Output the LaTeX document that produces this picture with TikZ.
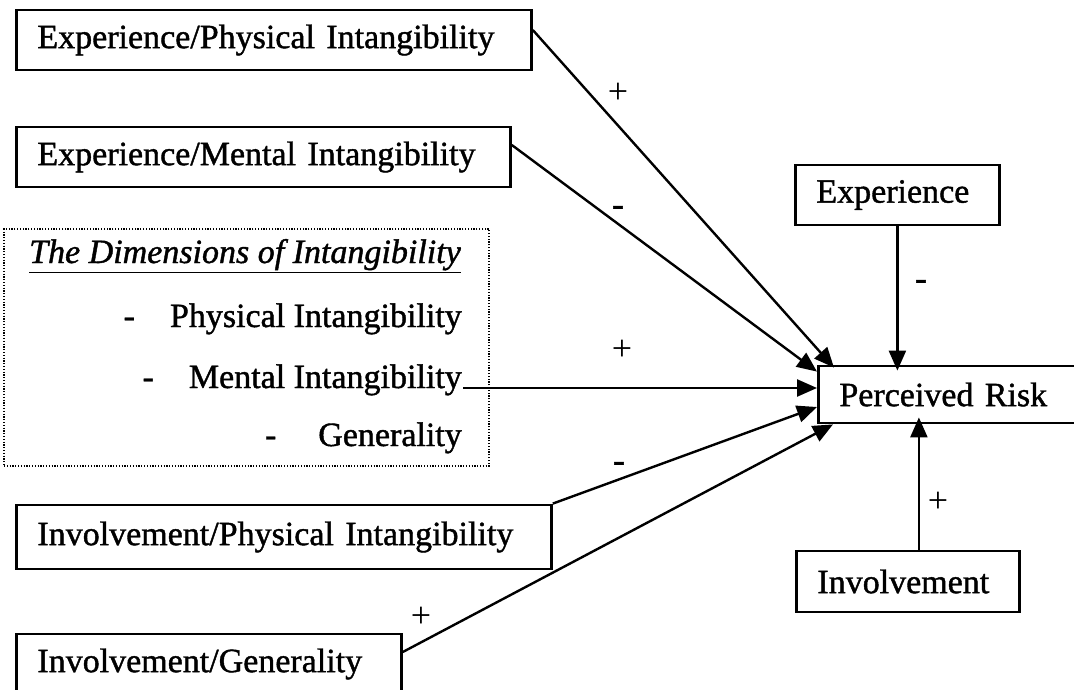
\documentclass[tikz,border=0pt]{standalone}
\usepackage{fontspec}
\setmainfont{Liberation Serif}[BoldFont=Liberation Serif, BoldFeatures={FakeBold=1.2},
  BoldItalicFont=Liberation Serif Italic, BoldItalicFeatures={FakeBold=1.2}]
\usetikzlibrary{arrows.meta}

\tikzset{
  box/.style={draw, line width=2.8pt, anchor=west, align=left, inner xsep=21pt,
    minimum height=60pt, font=\fontsize{34}{40}\selectfont\bfseries},
  dimbox/.style={draw, line width=1.2pt, dash pattern=on 1.2pt off 1.6pt,
    minimum width=485pt, minimum height=237pt},
  rowtext/.style={anchor=base east, inner sep=1pt, font=\fontsize{34}{40}\selectfont\bfseries},
  signlab/.style={inner sep=0pt, font=\fontsize{36}{38}\selectfont},
  arr/.style={line width=2.4pt, -{Triangle[length=20pt,width=17pt]}},
}

\begin{document}
\begin{tikzpicture}[x=1pt, y=-1pt]
  \path[use as bounding box, clip] (0,0) rectangle (1074,690);

  % boxes on the left
  \node[box, text width=473pt] (eP) at (15,40) {Experience/Physical Intangibility};
  \node[box, text width=452pt] (eM) at (15,157) {Experience/Mental Intangibility};
  \node[box, text width=493pt, minimum height=64pt] (iP) at (15,537) {Involvement/Physical Intangibility};
  \node[box, text width=343pt] (iG) at (15,664) {Involvement/Generality};

  % the dimensions
  \node[dimbox] (dim) at (246.5,347.5) {};
  \node[anchor=base west, inner sep=1pt, font=\fontsize{34}{40}\selectfont\bfseries] (title) at (28,263)
    {\underline{\textit{The Dimensions of Intangibility}}};
  \node[rowtext] (phys) at (463,327) {-\hspace{35pt}Physical Intangibility};
  \node[rowtext] (ment) at (463,388) {-\hspace{35pt}Mental Intangibility};
  \node[rowtext] (gen) at (463,446) {-\hspace{42pt}Generality};

  % right side
  \node[box, text width=162pt] (exp) at (794,195) {Experience};
  \node[box, text width=181pt, minimum height=61pt] (inv) at (795,581.5) {Involvement};
  \node[box, text width=280pt, minimum height=57pt] (risk) at (817,394.5) {Perceived Risk};

  % arrows
  \draw[arr] ([yshift=10pt]eP.east) -- ([xshift=17pt,yshift=-3pt]risk.north west);
  \draw[arr] ([yshift=12pt]eM.east) -- ([yshift=-7pt]risk.north west);
  \draw[arr] (ment.base east) -- (ment.base east -| risk.west);
  \draw[arr] (iP.north east) -- ([yshift=-12.5pt]risk.west);
  \draw[arr] ([yshift=12pt]iG.east) -- ([xshift=16pt]risk.south west);
  \draw[arr, shorten >=-6pt] (exp.south) -- (exp.south |- risk.north);
  \draw[arr, shorten >=-7pt] ([xshift=11pt]inv.north) -- ([xshift=11pt]inv.north |- risk.south);

  % signs
  \node[signlab] (s1) at (618,93) {+};
  \node[signlab] (s2) at (618,211) {\textbf{-}};
  \node[signlab] (s3) at (622,350) {+};
  \node[signlab] (s4) at (619,467) {\textbf{-}};
  \node[signlab] (s5) at (421,617) {+};
  \node[signlab] (s6) at (921,285) {\textbf{-}};
  \node[signlab] (s7) at (938,502) {+};
\end{tikzpicture}
\end{document}
